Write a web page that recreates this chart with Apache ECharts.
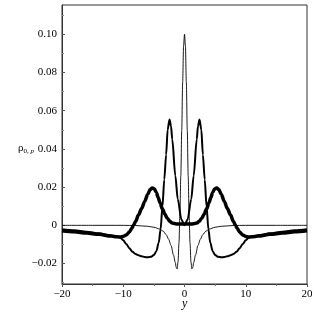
<!DOCTYPE html>
<html><head><meta charset="utf-8">
<script src="https://cdn.jsdelivr.net/npm/echarts@6/dist/echarts.min.js"></script>
<style>html,body{margin:0;padding:0;background:#fff}#c{width:316px;height:316px}</style>
</head><body><div id="c"></div>
<script>
// thin curve
const thinX = [-20,-15,-10,-8,-6,-5,-4,-3.5,-3,-2.6,-2.2,-1.8,-1.5,-1.35,-1.2,-1.05,-0.9,-0.75,-0.6,-0.45,-0.3,-0.15,0,0.15,0.3,0.45,0.6,0.75,0.9,1.05,1.2,1.35,1.5,1.8,2.2,2.6,3,3.5,4,5,6,8,10,15,20];
const thinY = [0,0,0,-0.0001,-0.0005,-0.001,-0.002,-0.003,-0.0048,-0.0072,-0.0105,-0.0155,-0.0195,-0.022,-0.0228,-0.019,-0.009,0.006,0.026,0.050,0.075,0.094,0.100,0.094,0.075,0.050,0.026,0.006,-0.009,-0.019,-0.0228,-0.022,-0.0195,-0.0155,-0.0105,-0.0072,-0.0048,-0.003,-0.002,-0.001,-0.0005,-0.0001,0,0,0];
// medium curve
const medX = [-20,-18,-16,-14,-12,-11,-10.5,-10,-9.5,-9,-8.5,-8,-7.5,-7,-6.5,-6,-5.5,-5,-4.6,-4.2,-3.9,-3.6,-3.3,-3,-2.75,-2.45,-2.2,-2,-1.5,-1.1,-0.5,0,0.5,1.1,1.5,2,2.2,2.45,2.75,3,3.3,3.6,3.9,4.2,4.6,5,5.5,6,6.5,7,7.5,8,8.5,9,9.5,10,10.5,11,12,14,16,18,20];
const medY = [-0.002,-0.0026,-0.0033,-0.0042,-0.0053,-0.0058,-0.0064,-0.0078,-0.0098,-0.012,-0.0138,-0.015,-0.0157,-0.0162,-0.0166,-0.0167,-0.0165,-0.0155,-0.0135,-0.009,-0.002,0.010,0.024,0.037,0.050,0.0554,0.052,0.045,0.026,0.0137,0.003,0,0.003,0.0137,0.026,0.045,0.052,0.0554,0.050,0.037,0.024,0.010,-0.002,-0.009,-0.0135,-0.0155,-0.0165,-0.0167,-0.0166,-0.0162,-0.0157,-0.015,-0.0138,-0.012,-0.0098,-0.0078,-0.0064,-0.0058,-0.0053,-0.0042,-0.0033,-0.0026,-0.002];
// thick curve
const thickX = [-20,-18,-16,-14,-12,-11,-10.5,-10,-9.5,-9,-8.6,-8.3,-8,-7.5,-7,-6.5,-6,-5.6,-5.25,-4.9,-4.6,-4.3,-4,-3.6,-3.2,-2.8,-2.4,-2,-1.5,-1,0,1,1.5,2,2.4,2.8,3.2,3.6,4,4.3,4.6,4.9,5.25,5.6,6,6.5,7,7.5,8,8.3,8.6,9,9.5,10,10.5,11,12,14,16,18,20];
const thickY = [-0.0028,-0.0034,-0.004,-0.0047,-0.0056,-0.006,-0.0061,-0.0058,-0.005,-0.0035,-0.0015,0,0.002,0.0055,0.0088,0.0125,0.0163,0.0187,0.0196,0.019,0.0172,0.0146,0.0118,0.0085,0.0058,0.0036,0.0021,0.0012,0.0008,0.0007,0.0007,0.0007,0.0008,0.0012,0.0021,0.0036,0.0058,0.0085,0.0118,0.0146,0.0172,0.019,0.0196,0.0187,0.0163,0.0125,0.0088,0.0055,0.002,0,-0.0015,-0.0035,-0.005,-0.0058,-0.0061,-0.006,-0.0056,-0.0047,-0.004,-0.0034,-0.0028];
const yMajor = [-0.02,0,0.02,0.04,0.06,0.08,0.10];
const yMinor = [-0.03,-0.01,0.01,0.03,0.05,0.07,0.09,0.11];
const xTicks = [-20,-10,0,10,20];

const zip = (xs, ys) => xs.map((x, i) => [x, ys[i]]);
const font = '"Liberation Serif", "Times New Roman", serif';
const yMin = -0.0307, yMax = 0.1153;
const fmtY = v => { const r = Math.round(v*100)/100; if (Math.abs(r) < 1e-9) return '0'; return r.toFixed(2).replace('-', '\u2212'); };

const chart = echarts.init(document.getElementById('c'), null, {renderer: 'canvas'});
chart.setOption({
  animation: false,
  backgroundColor: '#fff',
  grid: {left: 62, right: 9, top: 5, bottom: 32, show: true, borderColor: '#333', borderWidth: 1, backgroundColor: 'transparent'},
  xAxis: {
    type: 'value', min: -20, max: 20, interval: 10,
    axisLine: {onZero: false, lineStyle: {color: '#333', width: 1}},
    axisTick: {show: true, inside: false, length: 3, customValues: xTicks, lineStyle: {color: '#555'}},
    minorTick: {show: true, splitNumber: 2, length: 2, lineStyle: {color: '#777'}},
    splitLine: {show: false},
    axisLabel: {color: '#000', fontFamily: font, fontSize: 11, margin: 5, customValues: xTicks,
      formatter: v => String(v).replace('-', '\u2212')}
  },
  yAxis: [{
    type: 'value', min: yMin, max: yMax,
    axisLine: {onZero: false, lineStyle: {color: '#333', width: 1}},
    axisTick: {show: true, inside: true, length: 3, customValues: yMajor, lineStyle: {color: '#555'}},
    splitLine: {show: false},
    axisLabel: {color: '#000', fontFamily: font, fontSize: 11, margin: 5, customValues: yMajor, formatter: fmtY}
  }, {
    type: 'value', min: yMin, max: yMax, position: 'left',
    axisLine: {show: false, onZero: false},
    axisTick: {show: true, inside: true, length: 2, customValues: yMinor, lineStyle: {color: '#888'}},
    splitLine: {show: false},
    axisLabel: {show: false}
  }],
  graphic: [{
    type: 'text', left: 18, top: 143,
    style: {
      text: '{a|ρ}{s|0, }{i|p}',
      rich: {
        a: {fontFamily: font, fontSize: 11, fill: '#000'},
        s: {fontFamily: font, fontSize: 7, fill: '#000', verticalAlign: 'bottom', padding: [5,0,0,0]},
        i: {fontFamily: font, fontSize: 7, fontStyle: 'italic', fill: '#000', verticalAlign: 'bottom', padding: [5,0,0,0]}
      }
    }
  }, {
    type: 'text', left: 182, top: 298,
    style: {text: 'y', fontFamily: font, fontSize: 12, fontStyle: 'italic', fill: '#000'}
  }],
  series: [
    {type: 'line', data: zip(thinX, thinY), showSymbol: false, smooth: 0.3, smoothMonotone: 'x', lineStyle: {color: '#000', width: 0.9}, z: 3},
    {type: 'line', data: zip(medX, medY), showSymbol: false, smooth: 0.3, smoothMonotone: 'x', lineStyle: {color: '#000', width: 2}, z: 4},
    {type: 'line', data: zip(thickX, thickY), showSymbol: false, smooth: 0.3, smoothMonotone: 'x', lineStyle: {color: '#000', width: 3.5}, z: 5}
  ]
});
</script></body></html>
